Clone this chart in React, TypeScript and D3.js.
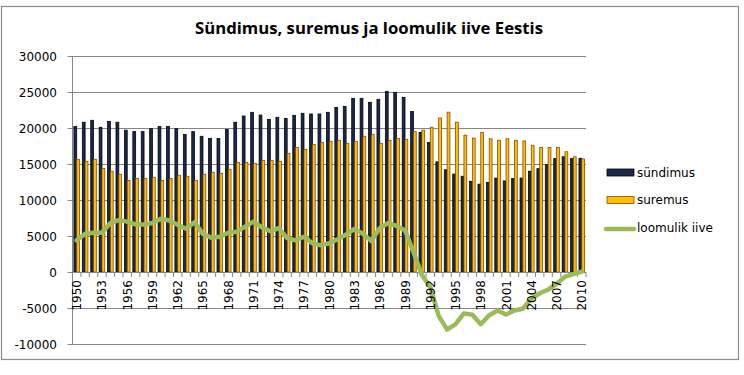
import React from "react";
import * as d3 from "d3";

const years: number[] = [
  1950, 1951, 1952, 1953, 1954, 1955, 1956, 1957, 1958, 1959,
  1960, 1961, 1962, 1963, 1964, 1965, 1966, 1967, 1968, 1969,
  1970, 1971, 1972, 1973, 1974, 1975, 1976, 1977, 1978, 1979,
  1980, 1981, 1982, 1983, 1984, 1985, 1986, 1987, 1988, 1989,
  1990, 1991, 1992, 1993, 1994, 1995, 1996, 1997, 1998, 1999,
  2000, 2001, 2002, 2003, 2004, 2005, 2006, 2007, 2008, 2009, 2010,
];

const births: number[] = [
  20200, 20800, 21070, 20100, 20900, 20800, 19700, 19500, 19500, 19900,
  20200, 20200, 19900, 19100, 19500, 18850, 18550, 18550, 19800, 20800,
  21670, 22180, 21800, 21200, 21480, 21340, 21760, 22040, 21950, 21950,
  22180, 22870, 23010, 24120, 24120, 23570, 23980, 25090, 24950, 24260,
  22300, 19400, 18000, 15300, 14200, 13600, 13300, 12600, 12200, 12450,
  13050, 12650, 13000, 13050, 14000, 14350, 14900, 15750, 16000, 15750, 15800,
];

const deaths: number[] = [
  15650, 15370, 15650, 14400, 14000, 13570, 12730, 13000, 13000, 13150,
  12730, 13000, 13430, 13290, 12730, 13570, 13850, 13700, 14260, 15230,
  15230, 15090, 15510, 15510, 15370, 16480, 17310, 17040, 17730, 18010,
  18150, 18290, 17870, 18150, 18850, 19120, 17870, 18290, 18570, 18430,
  19500, 19700, 20100, 21400, 22200, 20800, 19000, 18600, 19400, 18500,
  18300, 18500, 18300, 18200, 17600, 17300, 17300, 17300, 16700, 16000, 15700,
];

const naturalIncrease: number[] = [
  4400, 5300, 5450, 5450, 6800, 7200, 7000, 6600, 6600, 6800,
  7400, 7150, 6550, 6000, 6900, 5300, 4750, 4900, 5450, 5600,
  6300, 7000, 6200, 5650, 6100, 4700, 4400, 4900, 4000, 3700,
  4000, 4550, 5200, 6000, 5300, 4300, 6100, 6800, 6400, 5800,
  2800, -400, -2100, -6100, -8000, -7250, -5750, -5950, -7250, -6000,
  -5350, -5900, -5350, -5100, -3700, -2950, -2450, -1650, -650, -300, 50,
];

const yTicks: number[] = [-10000, -5000, 0, 5000, 10000, 15000, 20000, 25000, 30000];
const seriesNames: string[] = ["sündimus", "suremus", "loomulik iive"];
const title = "Sündimus, suremus ja loomulik iive Eestis";

const W = 744;
const H = 375;
const plotL = 72.5;
const plotR = 586;
const plotT = 56;
const plotB = 344;

const navyFill = "#18294a";
const navyStroke = "#05070d";
const orangeFill = "#ffc000";
const orangeStroke = "#8a4a0c";
const green = "#9bbb59";
const gridColor = "#868686";
const font = "'DejaVu Sans', sans-serif";

export default function App() {
  const x = d3
    .scaleBand<number>()
    .domain(years)
    .range([plotL, plotR])
    .paddingInner(1 / 3)
    .paddingOuter(1 / 6);
  const inner = d3
    .scaleBand<string>()
    .domain(["b", "d"])
    .range([0, x.bandwidth()]);
  const y = d3.scaleLinear().domain([-10000, 30000]).range([plotB, plotT]);
  const step = x.step();
  const center = (yr: number) => (x(yr) as number) + x.bandwidth() / 2;

  const line = d3
    .line<number>()
    .x((_, i) => center(years[i]))
    .y((d) => y(d))
    .curve(d3.curveLinear);

  const y0 = y(0);
  const boundaries = d3.range(years.length + 1).map((i) => plotL + i * step);

  return (
    <svg width={W} height={H} style={{ display: "block", position: "absolute", left: 0, top: 0 }}>
      <rect x={0} y={0} width={W} height={H} fill="#fff" />
      <rect x={1.5} y={6.5} width={737} height={353} fill="#fff" stroke="#8c8c8c" strokeWidth={1.2} />
      <text
        x={369}
        y={34}
        textAnchor="middle"
        fontFamily="'Open Sans', sans-serif"
        fontWeight="bold"
        fontSize={16}
        textLength={348}
        lengthAdjust="spacingAndGlyphs"
        fill="#000"
      >
        {title}
      </text>

      {/* gridlines */}
      {yTicks.map((t) => (
        <line key={"g" + t} x1={plotL} x2={plotR} y1={Math.round(y(t)) + 0.5} y2={Math.round(y(t)) + 0.5} stroke={gridColor} strokeWidth={1} />
      ))}

      {/* y axis */}
      <line x1={plotL} x2={plotL} y1={plotT} y2={plotB + 0.5} stroke={gridColor} strokeWidth={1} />
      {yTicks.map((t) => (
        <g key={"t" + t}>
          <line x1={plotL - 5} x2={plotL} y1={Math.round(y(t)) + 0.5} y2={Math.round(y(t)) + 0.5} stroke={gridColor} />
          <text x={57} y={y(t) + 4.5} textAnchor="end" fontFamily={font} fontSize={12} fill="#000">
            {t}
          </text>
        </g>
      ))}

      {/* bars */}
      {years.map((yr, i) => {
        const bx = x(yr) as number;
        const bw = inner.bandwidth();
        const yb = y(births[i]);
        const yd = y(deaths[i]);
        return (
          <g key={"b" + yr}>
            <rect x={bx + (inner("b") as number)} y={yb} width={bw} height={y0 - yb} fill={navyFill} stroke={navyStroke} strokeWidth={0.8} />
            <rect x={bx + (inner("d") as number)} y={yd} width={bw} height={y0 - yd} fill={orangeFill} stroke={orangeStroke} strokeWidth={0.8} />
          </g>
        );
      })}

      {/* x axis line and ticks */}
      <line x1={plotL} x2={plotR} y1={Math.round(y0) + 0.5} y2={Math.round(y0) + 0.5} stroke={gridColor} strokeWidth={1} />
      {boundaries.map((bx, i) => (
        <line key={"xt" + i} x1={bx} x2={bx} y1={y0} y2={y0 + 5} stroke={gridColor} strokeWidth={1} />
      ))}

      {/* line series */}
      <path d={line(naturalIncrease) as string} fill="none" stroke={green} strokeWidth={4.5} strokeLinejoin="round" strokeLinecap="round" />

      {/* x labels */}
      {years
        .filter((_, i) => i % 3 === 0)
        .map((yr) => {
          const cx = center(yr);
          const ty = y0 + 8;
          return (
            <text
              key={"xl" + yr}
              transform={`translate(${cx + 4.5},${ty}) rotate(-90)`}
              textAnchor="end"
              fontFamily={font}
              fontSize={12}
              fill="#000"
            >
              {yr}
            </text>
          );
        })}

      {/* legend */}
      <rect x={607} y={169} width={27} height={7} fill={navyFill} stroke={navyStroke} strokeWidth={0.8} />
      <text x={637} y={177} fontFamily={font} fontSize={12} fill="#000">{seriesNames[0]}</text>
      <rect x={607} y={196.5} width={27} height={7} fill={orangeFill} stroke={orangeStroke} strokeWidth={0.8} />
      <text x={637} y={204} fontFamily={font} fontSize={12} fill="#000">{seriesNames[1]}</text>
      <line x1={606} x2={634} y1={229} y2={229} stroke={green} strokeWidth={4.5} strokeLinecap="round" />
      <text x={637} y={232} fontFamily={font} fontSize={12} fill="#000">{seriesNames[2]}</text>
    </svg>
  );
}
